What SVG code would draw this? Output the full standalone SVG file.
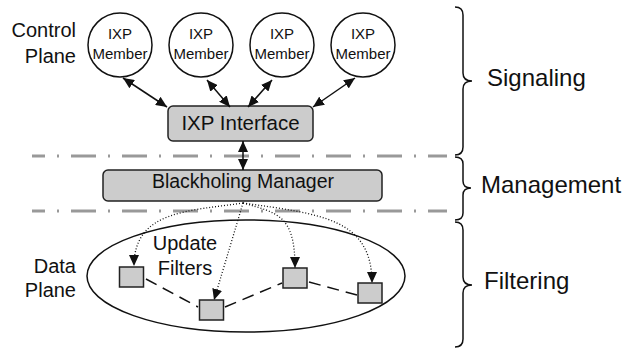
<svg xmlns="http://www.w3.org/2000/svg" width="634" height="349" viewBox="0 0 634 349">
<style>
text{font-family:"Liberation Sans",Arial,sans-serif;fill:#111}
.box{fill:#cccccc;stroke:#222;stroke-width:1.5}
.node{fill:#fff;stroke:#111;stroke-width:1.5}
.sep{stroke:#999;stroke-width:3;stroke-dasharray:25 12 2 12;stroke-dashoffset:12;fill:none}
.arr{stroke:#111;stroke-width:1.5;fill:none}
.dot{stroke:#111;stroke-width:1.3;stroke-dasharray:1 2;fill:none}
.dash{stroke:#111;stroke-width:1.5;stroke-dasharray:12 7;fill:none}
.brace{stroke:#111;stroke-width:1.5;fill:none}
</style>
<defs>
<marker id="ah" markerWidth="11" markerHeight="10" refX="11" refY="5" orient="auto-start-reverse" markerUnits="userSpaceOnUse">
<path d="M0,0 L11,5 L0,10 z" fill="#111"/>
</marker>
</defs>
<g id="separators">
<line class="sep" x1="32" y1="156" x2="447" y2="156"/>
<line class="sep" x1="32" y1="211" x2="447" y2="211"/>
</g>
<g id="labels-left">
<text x="76" y="37" font-size="20" text-anchor="end">Control</text>
<text x="76" y="63" font-size="20" text-anchor="end">Plane</text>
<text x="76" y="273" font-size="20" text-anchor="end">Data</text>
<text x="76" y="297" font-size="20" text-anchor="end">Plane</text>
</g>
<g id="member1"><circle class="node" cx="120" cy="45" r="32"/><text x="120" y="39" font-size="15" text-anchor="middle">IXP</text><text x="120" y="59" font-size="15" text-anchor="middle">Member</text></g>
<g id="member2"><circle class="node" cx="201" cy="45" r="32"/><text x="201" y="39" font-size="15" text-anchor="middle">IXP</text><text x="201" y="59" font-size="15" text-anchor="middle">Member</text></g>
<g id="member3"><circle class="node" cx="282" cy="45" r="32"/><text x="282" y="39" font-size="15" text-anchor="middle">IXP</text><text x="282" y="59" font-size="15" text-anchor="middle">Member</text></g>
<g id="member4"><circle class="node" cx="363" cy="45" r="32"/><text x="363" y="39" font-size="15" text-anchor="middle">IXP</text><text x="363" y="59" font-size="15" text-anchor="middle">Member</text></g>
<g id="ixp-interface"><rect class="box" x="168" y="106" width="145" height="35" rx="5"/><text x="240.5" y="130" font-size="20.5" text-anchor="middle">IXP Interface</text></g>
<g id="blackholing-manager"><rect class="box" x="103" y="170" width="279" height="31" rx="5"/><text x="243" y="188" font-size="19.5" text-anchor="middle">Blackholing Manager</text></g>
<g id="data-plane">
<ellipse cx="246" cy="276" rx="159" ry="56" fill="none" stroke="#111" stroke-width="1.5"/>
<text x="185" y="250" font-size="20" text-anchor="middle">Update</text>
<text x="185" y="275" font-size="20" text-anchor="middle">Filters</text>
</g>
<g id="filter1"><rect class="box" x="119.5" y="267" width="24" height="20"/></g>
<g id="filter2"><rect class="box" x="199.5" y="300" width="24" height="20"/></g>
<g id="filter3"><rect class="box" x="283" y="268" width="24" height="20"/></g>
<g id="filter4"><rect class="box" x="358" y="283" width="24" height="20"/></g>
<g id="connectors">
<line class="arr" x1="123" y1="78" x2="167" y2="107" marker-start="url(#ah)" marker-end="url(#ah)"/>
<line class="arr" x1="207" y1="80" x2="230" y2="107" marker-start="url(#ah)" marker-end="url(#ah)"/>
<line class="arr" x1="272" y1="80" x2="248" y2="107" marker-start="url(#ah)" marker-end="url(#ah)"/>
<line class="arr" x1="355" y1="78" x2="313" y2="107" marker-start="url(#ah)" marker-end="url(#ah)"/>
<line class="arr" x1="243" y1="141" x2="243" y2="170" marker-start="url(#ah)" marker-end="url(#ah)"/>
<path class="dot" d="M243,203 C190,211 134,210 134,266" marker-end="url(#ah)"/>
<path class="dot" d="M243,203 Q232,240 214,300" marker-end="url(#ah)"/>
<path class="dot" d="M243,203 C278,213 295,215 295,268" marker-end="url(#ah)"/>
<path class="dot" d="M243,203 C320,214 372,218 372,283" marker-end="url(#ah)"/>
<line class="dash" x1="146" y1="279" x2="198" y2="307"/>
<line class="dash" x1="225" y1="307" x2="282" y2="283"/>
<line class="dash" x1="309" y1="282" x2="357" y2="295"/>
</g>
<g id="braces">
<path class="brace" d="M455,7 Q463,7 463,15 L463,73 Q463,81 472,81 Q463,81 463,89 L463,147 Q463,155 455,155"/>
<path class="brace" d="M455,157 Q463,157 463,164 L463,181 Q463,188 471,188 Q463,188 463,195 L463,213 Q463,220 455,220"/>
<path class="brace" d="M455,222 Q463,222 463,230 L463,277 Q463,285 472,285 Q463,285 463,293 L463,339 Q463,347 455,347"/>
</g>
<g id="labels-right">
<text x="487" y="86" font-size="24">Signaling</text>
<text x="481" y="193" font-size="24">Management</text>
<text x="484" y="289" font-size="24">Filtering</text>
</g>
</svg>
